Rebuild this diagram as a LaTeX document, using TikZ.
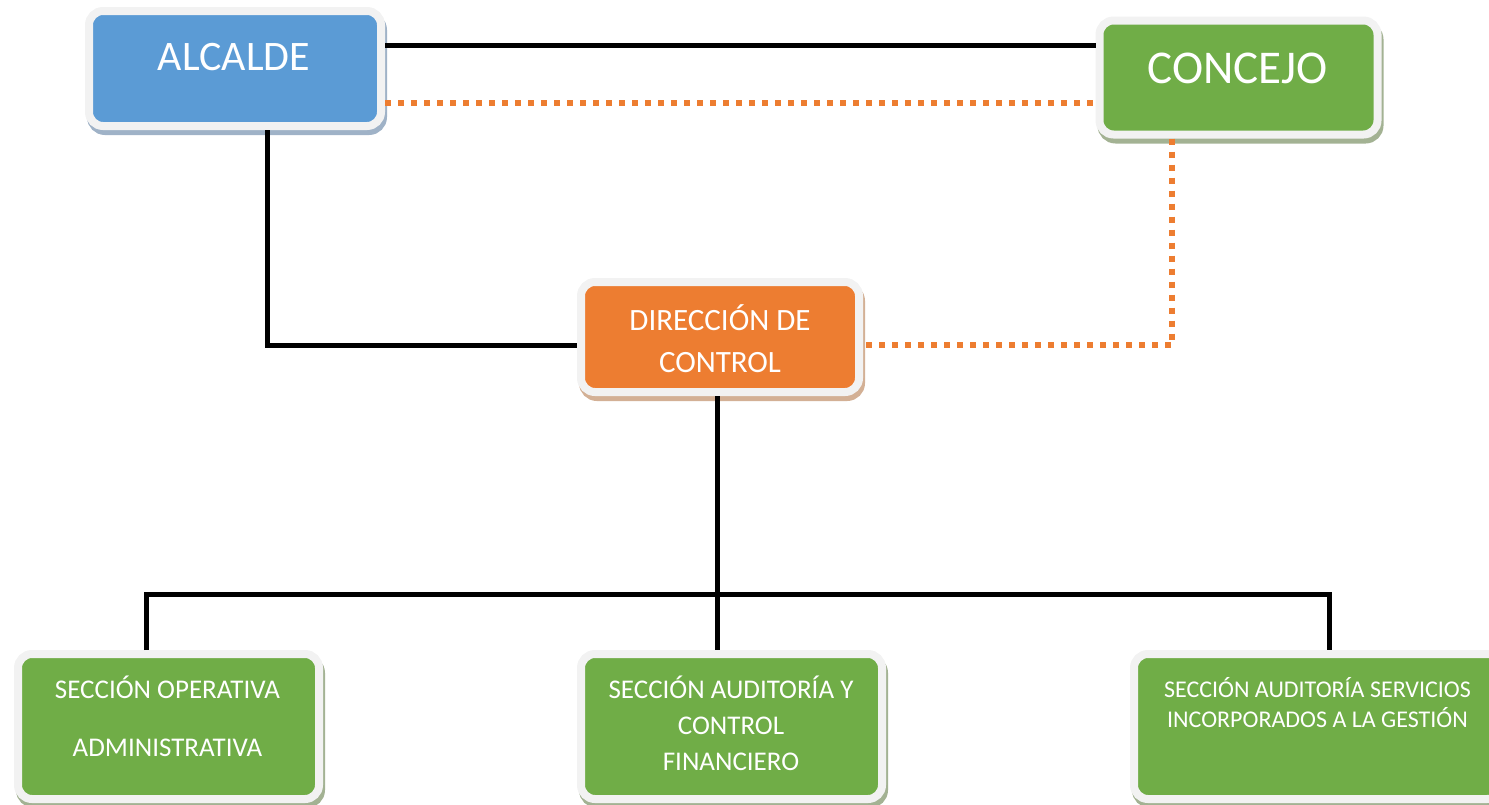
\documentclass[tikz,border=0pt]{standalone}
\usepackage{fontspec}
\setmainfont{Carlito}
\usetikzlibrary{shadows}
\definecolor{azul}{HTML}{5B9BD5}
\definecolor{verde}{HTML}{70AD47}
\definecolor{naranja}{HTML}{ED7D31}
\definecolor{borde}{HTML}{F2F2F2}
\definecolor{sazul}{HTML}{9FB2C7}
\definecolor{sverde}{HTML}{A3B293}
\definecolor{snaranja}{HTML}{D3B095}
\begin{document}
\begin{tikzpicture}[x=0.5pt,y=-0.5pt]
\tikzset{caja/.style 2 args={draw=borde, line width=4pt, rounded corners=7pt, fill=#1, inner sep=0pt,
  drop shadow={shadow xshift=1pt, shadow yshift=-2.5pt, opacity=1, fill=#2, draw=#2, line width=4pt}},
  texto/.style={text=white, align=center, inner sep=0pt},
  linea/.style={line width=2.5pt, black},
  punteada/.style={line width=3pt, naranja, dash pattern=on 3pt off 3.5pt}}
\useasboundingbox (0,0) rectangle (1489,804);
\clip (0,0) rectangle (1489,804);
\node[caja={azul}{sazul}, minimum width=146pt, minimum height=57.5pt] (alc) at (235,68.5) {};
\node[caja={verde}{sverde}, minimum width=139pt, minimum height=57pt] (con) at (1238.5,77.5) {};
\node[caja={naranja}{snaranja}, minimum width=139pt, minimum height=55pt] (dir) at (720,337) {};
\node[caja={verde}{sverde}, minimum width=150.5pt, minimum height=72.5pt] (op) at (168.5,726.5) {};
\node[caja={verde}{sverde}, minimum width=150.5pt, minimum height=72.5pt] (aud) at (731.5,726.5) {};
\node[caja={verde}{sverde}, minimum width=183.5pt, minimum height=72.5pt] (ser) at (1317.5,726.5) {};
\node[texto, font=\fontsize{21}{25}\selectfont] (talc) at (234,57) {ALCALDE};
\node[texto, font=\fontsize{23.5}{28}\selectfont] (tcon) at (1237.5,68) {CONCEJO};
\node[texto, font=\fontsize{15.5}{20.7}\selectfont] (tdir) at (720,338.5) {DIRECCIÓN DE\\CONTROL};
\node[texto, font=\fontsize{13.5}{29}\selectfont] (top) at (167.5,716.8) {SECCIÓN OPERATIVA\\ADMINISTRATIVA};
\node[texto, font=\fontsize{13.5}{18}\selectfont] (taud) at (731,723.8) {SECCIÓN AUDITORÍA Y\\CONTROL\\FINANCIERO};
\node[texto, font=\fontsize{12}{15}\selectfont] (tser) at (1317.5,702.6) {SECCIÓN AUDITORÍA SERVICIOS\\INCORPORADOS A LA GESTIÓN};
\coordinate (bus) at (717,594);
\draw[linea] ([yshift=11.75pt]alc.east) -- ([yshift=11.75pt]alc.east -| con.west);
\draw[punteada] ([yshift=-17.25pt]alc.east) -- ([yshift=-17.25pt]alc.east -| con.west);
\draw[linea] ([xshift=16pt]alc.south) |- ([yshift=-4pt]dir.west);
\draw[punteada] ([xshift=-33.25pt]con.south) |- ([yshift=-4pt]dir.east);
\draw[linea] ([xshift=-1.5pt]dir.south) -- ([xshift=-1.5pt]dir.south |- aud.north);
\draw[linea] ([xshift=-11.25pt]op.north) |- (bus) -| ([xshift=5.75pt]ser.north);
\end{tikzpicture}
\end{document}
